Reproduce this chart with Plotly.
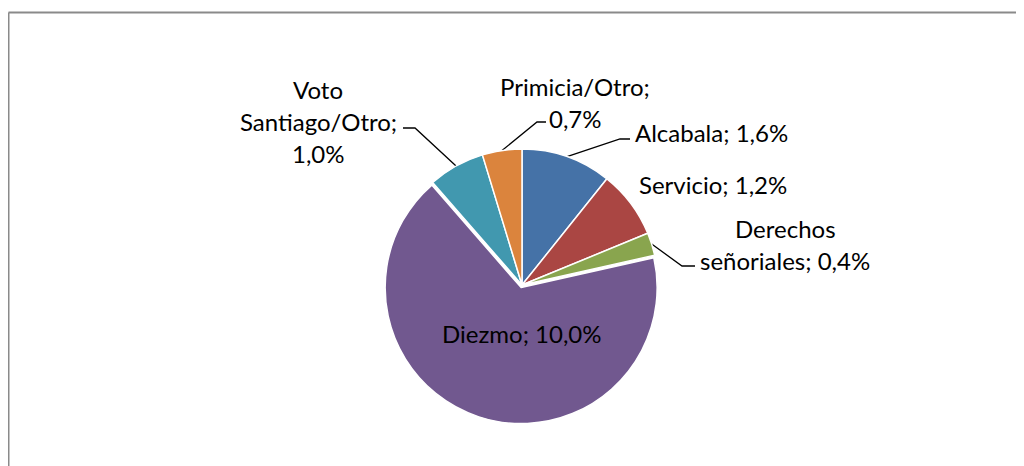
import math
import plotly.graph_objects as go

# ---- data ----
categories = ["Alcabala", "Servicio", "Derechos señoriales", "Diezmo",
              "Voto Santiago/Otro", "Primicia/Otro"]
values = [1.6, 1.2, 0.4, 10.0, 1.0, 0.7]
value_labels = ["1,6%", "1,2%", "0,4%", "10,0%", "1,0%", "0,7%"]
colors = ["#4572A7", "#AA4643", "#89A54E", "#71588F", "#4198AF", "#DB843D"]
pulls = [0, 0, 0, 0.02, 0, 0]

W, H = 1024, 466
OFF = 8  # page body margin: figure is drawn 8px from the window corner
CX, CY, R = 522, 285, 136  # pie center / radius in screen pixels
FONT = "Lato"
FS = 24

fig = go.Figure()

# pie domain computed from center / radius (plotly shrinks radius by max pull)
rr = R * (1 + max(pulls))
cxf, cyf = CX - OFF, CY - OFF
fig.add_trace(go.Pie(
    labels=categories, values=values, sort=False, direction="clockwise",
    rotation=0, pull=pulls, textinfo="none", hoverinfo="label+value",
    marker=dict(colors=colors, line=dict(color="white", width=1.5)),
    domain=dict(x=[(cxf - rr) / W, (cxf + rr) / W],
                y=[1 - (cyf + rr) / H, 1 - (cyf - rr) / H]),
    showlegend=False,
))

# invisible axes whose data units equal screen pixels
fig.update_xaxes(range=[OFF, W + OFF], visible=False, fixedrange=True)
fig.update_yaxes(range=[H + OFF, OFF], visible=False, fixedrange=True)

total = sum(values)


def edge_point(i):
    cum = sum(values[:i]) + values[i] / 2
    a = cum / total * 2 * math.pi
    return CX + R * math.sin(a), CY - R * math.cos(a)


# label layout: (lines, x, first-line y, anchor, leader bend, leader end)
label_specs = {
    0: (["Alcabala; " + value_labels[0]], 633, 132, "left", (620, 139), (630, 139)),
    1: (["Servicio; " + value_labels[1]], 637, 184, "left", None, None),
    2: (["Derechos", "señoriales; " + value_labels[2]], 785, 228, "center", (682, 266), (695, 266)),
    3: (["Diezmo; " + value_labels[3]], 522, 333, "center", None, None),
    4: (["Voto", "Santiago/Otro;", value_labels[4]], 318, 89, "center", (415, 128), (403, 128)),
    5: (["Primicia/Otro;", value_labels[5]], 575, 86, "center", (537, 122), (546, 122)),
}
LINE_GAP = 32

for i, (lines, x, y0, anchor, bend, end) in label_specs.items():
    for k, t in enumerate(lines):
        fig.add_annotation(x=x, y=y0 + k * LINE_GAP, xref="x", yref="y",
                           text=t, showarrow=False, xanchor=anchor,
                           yanchor="middle",
                           font=dict(family=FONT, size=FS, color="#000000"))
    if bend is not None:
        px, py = edge_point(i)
        fig.add_trace(go.Scatter(
            x=[px, bend[0], end[0]], y=[py, bend[1], end[1]],
            mode="lines", line=dict(color="#000000", width=1.3),
            hoverinfo="skip", showlegend=False))

# chart border (left + top visible)
fig.add_shape(type="line", xref="x", yref="y", x0=8.5, y0=12.5, x1=W + 20, y1=12.5,
              line=dict(color="#8a8a8a", width=2))
fig.add_shape(type="line", xref="x", yref="y", x0=8.5, y0=12.5, x1=8.5, y1=H + 20,
              line=dict(color="#8a8a8a", width=2))

fig.update_layout(
    width=W, height=H, margin=dict(l=0, r=0, t=0, b=0),
    paper_bgcolor="white", plot_bgcolor="rgba(0,0,0,0)",
    font=dict(family=FONT),
)

fig.write_html("out.html")
